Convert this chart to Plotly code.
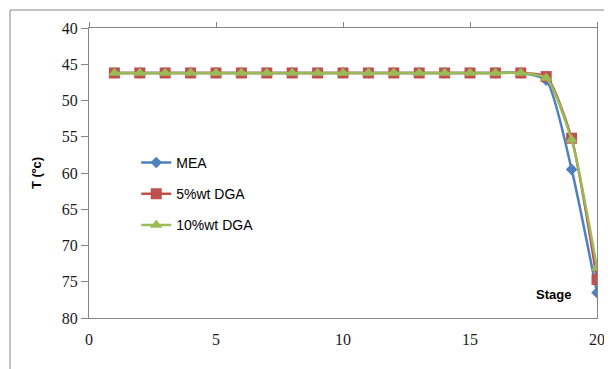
import plotly.graph_objects as go

stages = list(range(1, 21))
mea = [46.2]*17 + [47.2, 59.5, 76.5]
dga5 = [46.2]*17 + [46.7, 55.2, 74.7]
dga10 = [46.2]*17 + [46.9, 55.4, 73.1]

names = ["MEA", "5%wt DGA", "10%wt DGA"]
colors = ["#4F81BD", "#C0504D", "#9BBB59"]
symbols = ["diamond", "square", "triangle-up"]
sizes = [9, 11, 11]
series = [mea, dga5, dga10]

FONT = "Liberation Sans"
TICKFONT = dict(family="Liberation Serif", size=16, color="#1a1a1a")

fig = go.Figure()
for i, (nm, ys) in enumerate(zip(names, series)):
    fig.add_trace(go.Scatter(
        x=stages, y=ys, name=nm, mode="lines+markers",
        line=dict(color=colors[i], width=2.5, shape="spline", smoothing=0.6),
        marker=dict(symbol=symbols[i], size=sizes[i], color=colors[i]),
        legendgroup=nm,
    ))

# invisible trace for top axis
fig.add_trace(go.Scatter(x=[0, 20], y=[40, 40], xaxis="x2", mode="markers",
                         marker=dict(opacity=0), showlegend=False, hoverinfo="skip"))

# page body has an 8px default margin, so the figure is shrunk by that amount
fig.update_layout(
    width=604, height=361,
    margin=dict(l=81, r=15, t=20, b=51, autoexpand=False),
    plot_bgcolor="white", paper_bgcolor="white",
    font=dict(family=FONT, size=14, color="#000000"),
    showlegend=True,
    legend=dict(x=0.093, y=0.59, xanchor="left", yanchor="top",
                bgcolor="rgba(0,0,0,0)", tracegroupgap=10,
                font=dict(family=FONT, size=14)),
    xaxis=dict(range=[0, 20], dtick=5, showgrid=False, zeroline=False, automargin=False,
               showline=True, linecolor="#868686", linewidth=1,
               ticks="", tickfont=TICKFONT, ticklabelstandoff=7),
    xaxis2=dict(range=[0, 20], dtick=5, overlaying="x", side="top", showgrid=False,
                automargin=False,
                zeroline=False, showline=True, linecolor="#868686", linewidth=1,
                ticks="outside", ticklen=5, tickcolor="#868686", showticklabels=False),
    yaxis=dict(range=[80, 40], dtick=5, showgrid=False, zeroline=False, automargin=False,
               showline=True, linecolor="#868686", linewidth=1, mirror=True,
               ticks="outside", ticklen=7, tickcolor="#868686",
               tickfont=TICKFONT,
               title=dict(text="<b>T (ºc)</b>", font=dict(size=13, family=FONT), standoff=17)),
    annotations=[dict(text="<b>Stage</b>", x=18.3, y=76.8, xref="x", yref="y",
                      showarrow=False, font=dict(size=13, family=FONT))],
    shapes=[dict(type="rect", xref="paper", yref="paper",
                 x0=(10-89)/508, x1=1.2, y0=-0.5, y1=(318-10)/290,
                 line=dict(color="#868686", width=1), fillcolor="rgba(0,0,0,0)", layer="below")],
)

fig.write_html("out.html")
